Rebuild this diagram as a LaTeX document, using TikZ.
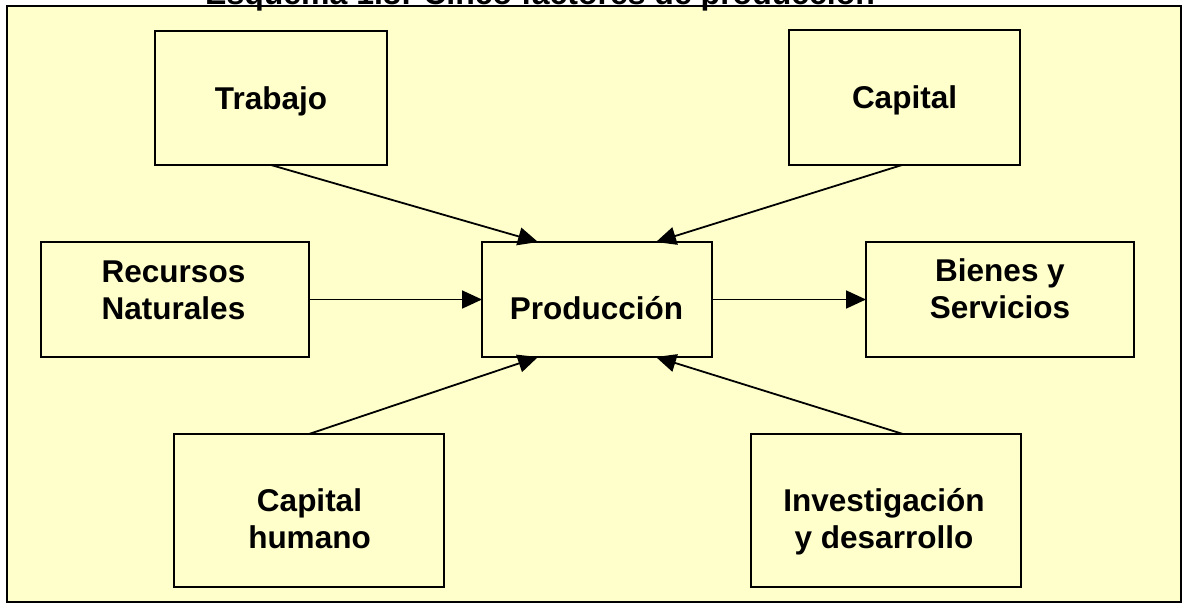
\documentclass[tikz,border=0pt]{standalone}
\usepackage{fontspec}
\setmainfont{Liberation Sans}
\usetikzlibrary{arrows.meta,calc}
\definecolor{paper}{HTML}{FFFFCC}
\begin{document}
\begin{tikzpicture}[x=1pt,y=-1pt,
  box/.style={draw=black,line width=2pt,fill=paper,rectangle,inner sep=0pt,outer sep=0pt},
  lbl/.style={font=\fontsize{31.5}{37}\selectfont\bfseries,align=center,anchor=base,inner sep=0pt},
  arr/.style={line width=1.8pt,-{Triangle[length=20pt,width=18pt]}}]
\useasboundingbox (0,0) rectangle (1183,606);
\clip (0,0) rectangle (1183,606);
\fill[white] (0,0) rectangle (1183,606);
\node[draw=black,line width=1.5pt,fill=paper,inner sep=0pt,outer sep=0pt,minimum width=1174,minimum height=596] (frame) at (594,304) {};
\node[font=\fontsize{32}{38}\selectfont\bfseries,anchor=base west,inner sep=0pt] (title) at (205,4) {Esquema 1.8: Cinco factores de producción};
% boxes
\node[box,minimum width=232,minimum height=134] (trabajo) at (271,98) {};
\node[box,minimum width=231,minimum height=135] (capital) at (904.5,97.5) {};
\node[box,minimum width=268,minimum height=115] (recursos) at (175,299.5) {};
\node[box,minimum width=230,minimum height=115] (produccion) at (597,299.5) {};
\node[box,minimum width=268,minimum height=115] (bienes) at (1000,299.5) {};
\node[box,minimum width=270,minimum height=153] (humano) at (309,510.5) {};
\node[box,minimum width=270,minimum height=153] (invest) at (886,510.5) {};
% labels
\node[lbl] (trabajo-t) at (271,109) {Trabajo};
\node[lbl] (capital-t) at (904.5,108) {Capital};
\node[lbl] (recursos-t) at (173.5,319) {Recursos\\Naturales};
\node[lbl] (produccion-t) at (596.5,319) {Producción};
\node[lbl] (bienes-t) at (1000,318) {Bienes y\\Servicios};
\node[lbl] (humano-t) at (309.5,548) {Capital\\humano};
\node[lbl] (invest-t) at (884,548) {Investigación\\y desarrollo};
% connectors
\draw[arr] (trabajo.south) -- ($(produccion.north west)+(56,0)$);
\draw[arr] ($(capital.south)+(-2.5,0)$) -- ($(produccion.north west)+(174,0)$);
\draw[arr] (recursos.east) -- (produccion.west);
\draw[arr] (produccion.east) -- (bienes.west);
\draw[arr] (humano.north) -- ($(produccion.south west)+(56,0)$);
\draw[arr] ($(invest.north)+(17,0)$) -- ($(produccion.south west)+(174,0)$);
\end{tikzpicture}
\end{document}
